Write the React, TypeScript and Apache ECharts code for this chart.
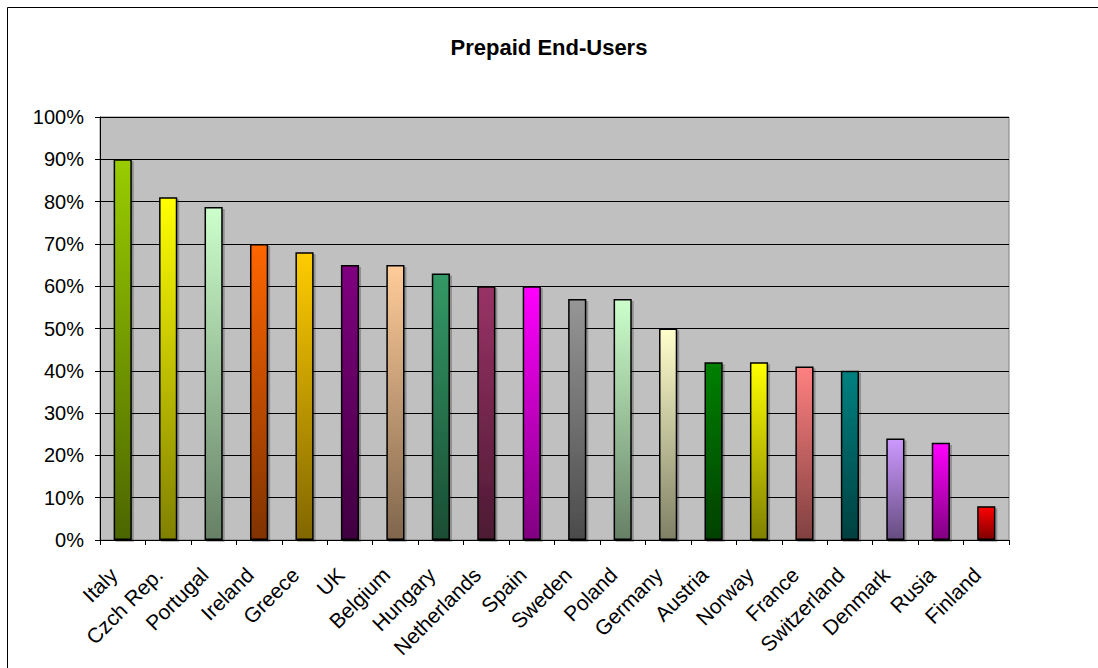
import React, { useEffect, useRef } from "react";
import * as echarts from "echarts";

const categories = ["Italy", "Czch Rep.", "Portugal", "Ireland", "Greece", "UK", "Belgium", "Hungary", "Netherlands", "Spain", "Sweden", "Poland", "Germany", "Austria", "Norway", "France", "Switzerland", "Denmark", "Rusia", "Finland"];
const values = [90, 81, 78.7, 70, 68, 65, 65, 63, 60, 60, 57, 57, 50, 42, 42, 41, 40, 24, 23, 8];
const topColors = ["#99CC00", "#FFFF00", "#CCFFCC", "#FF6600", "#FFCC00", "#800080", "#FFCC99", "#339966", "#993366", "#FF00FF", "#969696", "#CCFFCC", "#FFFFCC", "#008000", "#FFFF00", "#FF8080", "#008080", "#CC99FF", "#FF00FF", "#FF0000"];
const bottomColors = ["#4C6600", "#808000", "#668066", "#803300", "#806600", "#400040", "#80664D", "#1A4D33", "#4D1A33", "#800080", "#4B4B4B", "#668066", "#808066", "#004000", "#808000", "#804040", "#004040", "#664D80", "#800080", "#800000"];
const yTicks = [0, 10, 20, 30, 40, 50, 60, 70, 80, 90, 100];

export default function App() {
  const ref = useRef<HTMLDivElement>(null);
  useEffect(() => {
    const chart = echarts.init(ref.current!, null, { renderer: "svg" });
    const font = "'Liberation Sans', Arial, sans-serif";
    chart.setOption({
      animation: false,
      backgroundColor: "#FFFFFF",
      title: {
        text: "Prepaid End-Users",
        left: "center",
        top: 31,
        textStyle: { fontFamily: font, fontSize: 22, fontWeight: "bold", color: "#000" },
      },
      graphic: [
        {
          type: "rect",
          shape: { x: 7.5, y: 7.5, width: 1200, height: 800 },
          style: { fill: "none", stroke: "#000", lineWidth: 1 },
          silent: true,
          z: 100,
        },
      ],
      grid: {
        left: 100,
        right: 89,
        top: 117,
        bottom: 128,
        show: true,
        backgroundColor: "#C0C0C0",
        borderColor: "#808080",
        borderWidth: 1,
      },
      xAxis: {
        type: "category",
        data: categories,
        boundaryGap: true,
        axisLine: { lineStyle: { color: "#000", width: 1 } },
        axisTick: { show: true, length: 5, lineStyle: { color: "#000" } },
        axisLabel: {
          rotate: 45,
          interval: 0,
          margin: 22,
          padding: [0, 13, 0, 0],
          fontFamily: font,
          fontSize: 21,
          color: "#000",
        },
      },
      yAxis: {
        type: "value",
        min: 0,
        max: 100,
        interval: 10,
        axisLine: { show: true, lineStyle: { color: "#000", width: 1 } },
        axisTick: { show: true, length: 5, lineStyle: { color: "#000" } },
        splitLine: { show: true, lineStyle: { color: "#000", width: 1 } },
        axisLabel: {
          margin: 16,
          fontFamily: font,
          fontSize: 20,
          color: "#000",
          formatter: (v: number) => (yTicks.includes(v) ? v + "%" : ""),
        },
      },
      series: [
        {
          type: "bar",
          barWidth: "40%",
          data: values.map((v, i) => ({
            value: v,
            itemStyle: {
              color: new echarts.graphic.LinearGradient(0, 0, 0, 1, [
                { offset: 0, color: topColors[i] },
                { offset: 1, color: bottomColors[i] },
              ]),
              borderColor: "#000",
              borderWidth: 1.5,
              shadowColor: "rgba(0,0,0,0.25)",
              shadowOffsetX: 2,
              shadowOffsetY: 2,
              shadowBlur: 0,
            },
          })),
        },
      ],
    });
    return () => chart.dispose();
  }, []);
  return (
    <div
      ref={ref}
      style={{ position: "absolute", left: 0, top: 0, width: 1098, height: 668 }}
    />
  );
}
